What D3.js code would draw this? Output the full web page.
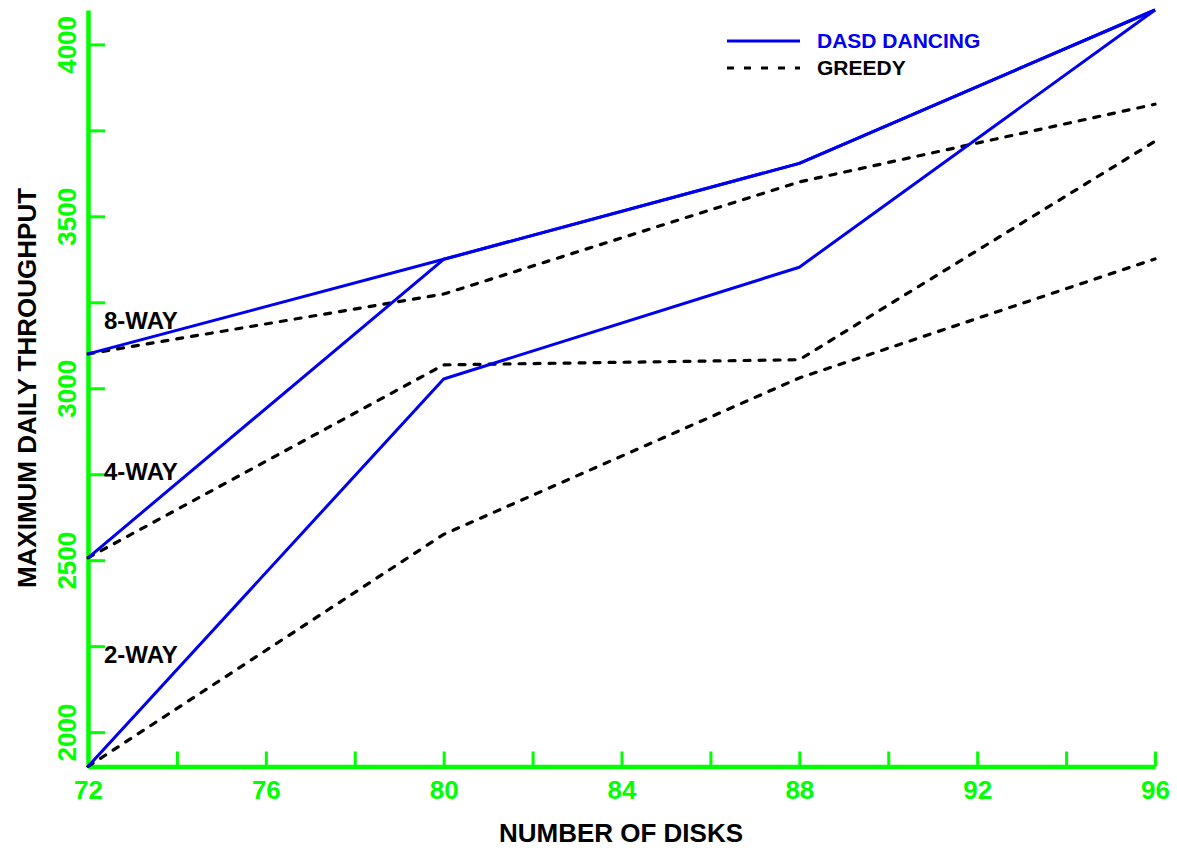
<!DOCTYPE html>
<html>
<head>
<meta charset="utf-8">
<script src="https://cdn.jsdelivr.net/npm/d3@7"></script>
<style>
  html, body { margin: 0; padding: 0; background: #fff; }
  svg { display: block; }
  text { font-family: "Liberation Sans", Arial, sans-serif; font-weight: bold; }
</style>
</head>
<body>
<svg id="chart" width="1177" height="850"></svg>
<script>
// ---- data ----
const disks = [72, 80, 88, 96];
const dasd8 = [3100, 3375, 3654, 4100];
const dasd4 = [2507, 3375, 3654, 4100];
const dasd2 = [1900, 3027, 3352, 4100];
const greedy8 = [3100, 3274, 3600, 3826];
const greedy4 = [2507, 3068, 3083, 3718];
const greedy2 = [1900, 2575, 3030, 3376];
const xTicks = [72, 74, 76, 78, 80, 82, 84, 86, 88, 90, 92, 94, 96];
const xLabels = [72, 76, 80, 84, 88, 92, 96];
const yTicks = [2000, 2250, 2500, 2750, 3000, 3250, 3500, 3750, 4000];
const yLabels = [2000, 2500, 3000, 3500, 4000];
const seriesLabels = [
  { text: "8-WAY", value: 3195 },
  { text: "4-WAY", value: 2755 },
  { text: "2-WAY", value: 2225 }
];
const legendItems = [
  { text: "DASD DANCING", kind: "dasd" },
  { text: "GREEDY", kind: "greedy" }
];

const GREEN = "#00ff00";
const BLUE = "#0000f0";

const svg = d3.select("#chart");
const x = d3.scaleLinear().domain([72, 96]).range([88, 1155]);
const y = d3.scaleLinear().domain([1900, 4100]).range([766.5, 10]);

// ---- axes ----
const xAxis = d3.axisBottom(x).tickValues(xTicks).tickSize(-15).tickSizeOuter(0)
  .tickFormat(d => xLabels.includes(d) ? String(d) : "");
const gx = svg.append("g").attr("transform", `translate(0,${y(1900)})`).call(xAxis);
gx.select(".domain").attr("stroke", GREEN).attr("stroke-width", 4.5);
gx.selectAll(".tick line").attr("stroke", GREEN).attr("stroke-width", 3);
gx.selectAll(".tick text").attr("fill", GREEN).attr("font-size", 26)
  .attr("font-family", "Liberation Sans, Arial, sans-serif").attr("font-weight", "bold")
  .attr("y", 32).attr("dy", null);

const yAxis = d3.axisLeft(y).tickValues(yTicks).tickSize(-17).tickSizeOuter(0)
  .tickFormat(d => yLabels.includes(d) ? String(d) : "");
const gy = svg.append("g").attr("transform", `translate(${x(72)},0)`).call(yAxis);
gy.select(".domain").attr("stroke", GREEN).attr("stroke-width", 4.5);
gy.selectAll(".tick line").attr("stroke", GREEN).attr("stroke-width", 3);
gy.selectAll(".tick text").attr("fill", GREEN).attr("font-size", 26)
  .attr("font-family", "Liberation Sans, Arial, sans-serif").attr("font-weight", "bold")
  .attr("x", null).attr("dy", null).attr("text-anchor", "middle")
  .attr("transform", "translate(-12,0) rotate(-90)");

// ---- axis titles ----
svg.append("text").attr("x", 621).attr("y", 842).attr("text-anchor", "middle")
  .attr("font-size", 26).attr("fill", "#000").text("NUMBER OF DISKS");
svg.append("text").attr("transform", "translate(36,388) rotate(-90)").attr("text-anchor", "middle")
  .attr("font-size", 26).attr("fill", "#000").text("MAXIMUM DAILY THROUGHPUT");

// ---- lines ----
const line = d3.line().x((d, i) => x(disks[i])).y(d => y(d));
function drawGreedy(vals) {
  svg.append("path").datum(vals).attr("d", line).attr("fill", "none")
    .attr("stroke", "#000").attr("stroke-width", 3.2)
    .attr("stroke-dasharray", "6,9").attr("stroke-linecap", "round");
}
function drawDasd(vals) {
  svg.append("path").datum(vals).attr("d", line).attr("fill", "none")
    .attr("stroke", BLUE).attr("stroke-width", 3).attr("stroke-linejoin", "round");
}
[greedy8, greedy4, greedy2].forEach(drawGreedy);
[dasd8, dasd4, dasd2].forEach(drawDasd);

// ---- series labels ----
svg.selectAll("text.series").data(seriesLabels).enter().append("text")
  .attr("class", "series").attr("x", 104).attr("y", d => y(d.value) + 8)
  .attr("font-size", 24).attr("fill", "#000").text(d => d.text);

// ---- legend ----
const lg = svg.append("g");
legendItems.forEach((item, i) => {
  const ly = 41 + i * 27;
  const ln = lg.append("line").attr("x1", 727).attr("x2", 800).attr("y1", ly).attr("y2", ly)
    .attr("stroke-width", 3);
  if (item.kind === "dasd") ln.attr("stroke", BLUE);
  else ln.attr("stroke", "#000").attr("stroke-dasharray", "7,10");
  lg.append("text").attr("x", 817).attr("y", ly + 7).attr("font-size", 21)
    .attr("fill", item.kind === "dasd" ? BLUE : "#000").text(item.text);
});
</script>
</body>
</html>
